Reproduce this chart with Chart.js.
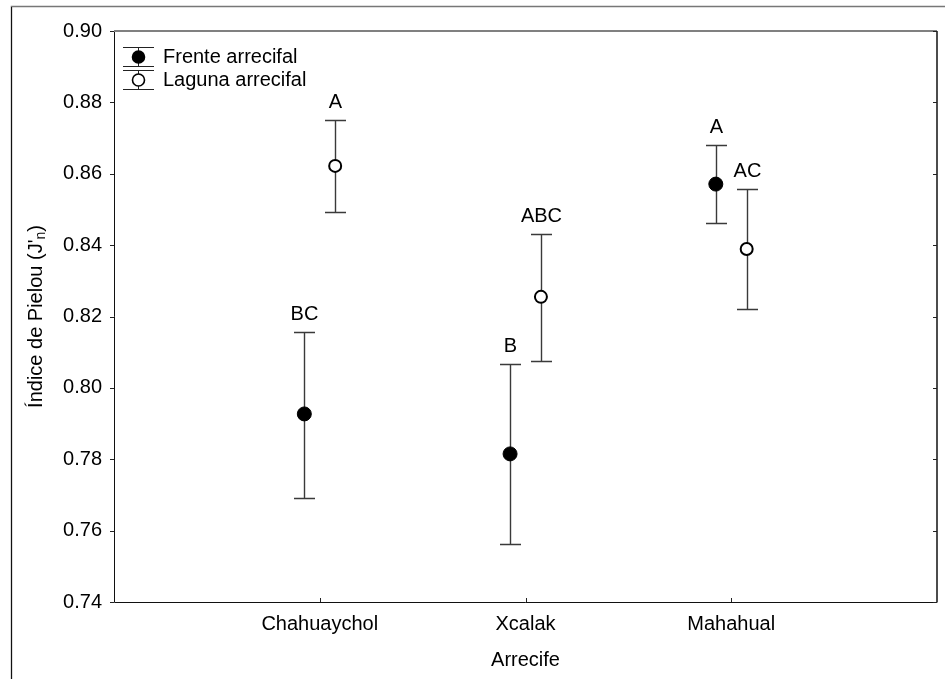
<!DOCTYPE html>
<html>
<head>
<meta charset="utf-8">
<script src="https://cdn.jsdelivr.net/npm/chart.js@4.4.0/dist/chart.umd.min.js"></script>
<style>
  html, body { margin: 0; padding: 0; background: #fff; }
  #wrap { width: 945px; height: 679px; }
</style>
</head>
<body>
<div id="wrap"><canvas id="myChart" width="945" height="679"></canvas></div>
<script>
// reef sites and Pielou evenness (mean with error bars)
let categories = ['Chahuaychol', 'Xcalak', 'Mahahual'];

let frenteMean = [0.7927, 0.7815, 0.8571];
let frenteLow = [0.7691, 0.7562, 0.8463];
let frenteHigh = [0.8157, 0.8067, 0.8681];
let frenteLetters = ['BC', 'B', 'A'];

let lagunaMean = [0.8622, 0.8255, 0.8389];
let lagunaLow = [0.8494, 0.8076, 0.8220];
let lagunaHigh = [0.8750, 0.8431, 0.8556];
let lagunaLetters = ['A', 'ABC', 'AC'];

let yTicks = [0.74, 0.76, 0.78, 0.80, 0.82, 0.84, 0.86, 0.88, 0.90];

const FONT = "'Liberation Sans', Arial, sans-serif";
const FS = 20;
const shift = 0.075; // horizontal dodge of the two series

function points(means, dx) {
    return means.map((v, i) => ({ x: i + 1 + dx, y: v }));
}

let groups = [
    { dx: -shift, low: frenteLow, high: frenteHigh, letters: frenteLetters },
    { dx: shift, low: lagunaLow, high: lagunaHigh, letters: lagunaLetters }
];

// error bars, significance letters, frame, ticks, legend and titles
const decor = {
    id: 'decor',
    beforeDraw(chart) {
        const ctx = chart.ctx;
        ctx.save();
        ctx.fillStyle = '#fff';
        ctx.fillRect(0, 0, chart.width, chart.height);
        // outer frame
        ctx.strokeStyle = '#777';
        ctx.lineWidth = 1.5;
        ctx.beginPath();
        ctx.moveTo(11.5, chart.height);
        ctx.lineTo(11.5, 6.5);
        ctx.lineTo(chart.width, 6.5);
        ctx.stroke();
        ctx.strokeStyle = '#111';
        ctx.lineWidth = 1;
        ctx.beginPath();
        ctx.moveTo(11.5, chart.height);
        ctx.lineTo(11.5, 7);
        ctx.stroke();
        ctx.restore();
    },
    beforeDatasetsDraw(chart) {
        const ctx = chart.ctx;
        const xs = chart.scales.x, ys = chart.scales.y;
        ctx.save();
        ctx.strokeStyle = '#3a3a3a';
        ctx.lineWidth = 1.4;
        ctx.fillStyle = '#000';
        ctx.font = FS + 'px ' + FONT;
        ctx.textAlign = 'center';
        ctx.textBaseline = 'middle';
        groups.forEach(g => {
            g.low.forEach((lo, i) => {
                const px = Math.round(xs.getPixelForValue(i + 1 + g.dx)) + 0.5;
                const yl = Math.round(ys.getPixelForValue(lo)) + 0.5;
                const yh = Math.round(ys.getPixelForValue(g.high[i])) + 0.5;
                ctx.beginPath();
                ctx.moveTo(px, yl); ctx.lineTo(px, yh);
                ctx.moveTo(px - 10.5, yl); ctx.lineTo(px + 10.5, yl);
                ctx.moveTo(px - 10.5, yh); ctx.lineTo(px + 10.5, yh);
                ctx.stroke();
                ctx.fillText(g.letters[i], px, yh - 18);
            });
        });
        ctx.restore();
    },
    afterDraw(chart) {
        const ctx = chart.ctx;
        const a = chart.chartArea;
        const xs = chart.scales.x, ys = chart.scales.y;
        ctx.save();
        // plot frame
        ctx.strokeStyle = '#111';
        ctx.lineWidth = 1;
        ctx.beginPath();
        ctx.moveTo(a.left + 0.5, a.top);
        ctx.lineTo(a.left + 0.5, a.bottom + 0.5);
        ctx.lineTo(a.right, a.bottom + 0.5);
        ctx.stroke();
        ctx.lineWidth = 1.5;
        ctx.beginPath();
        ctx.moveTo(a.right, a.top);
        ctx.lineTo(a.right, a.bottom + 0.5);
        ctx.stroke();
        ctx.strokeStyle = '#808080';
        ctx.lineWidth = 2;
        ctx.beginPath();
        ctx.moveTo(a.left, a.top);
        ctx.lineTo(a.right, a.top);
        ctx.stroke();
        // tick marks
        ctx.strokeStyle = '#222';
        ctx.lineWidth = 1;
        ctx.beginPath();
        yTicks.forEach(v => {
            const py = Math.round(ys.getPixelForValue(v)) + 0.5;
            ctx.moveTo(a.left - 4, py); ctx.lineTo(a.left, py);
            ctx.moveTo(a.right - 4, py); ctx.lineTo(a.right, py);
        });
        categories.forEach((c, i) => {
            const px = Math.round(xs.getPixelForValue(i + 1)) + 0.5;
            ctx.moveTo(px, a.bottom); ctx.lineTo(px, a.bottom - 4);
        });
        ctx.stroke();

        // legend
        const items = [
            { label: 'Frente arrecifal', fill: '#000', y: 57 },
            { label: 'Laguna arrecifal', fill: '#fff', y: 80 }
        ];
        items.forEach(it => {
            const cx = 138.5;
            ctx.strokeStyle = '#222';
            ctx.lineWidth = 1;
            ctx.beginPath();
            ctx.moveTo(cx, it.y - 9); ctx.lineTo(cx, it.y + 9);
            ctx.moveTo(cx - 15.5, it.y - 9.5); ctx.lineTo(cx + 15.5, it.y - 9.5);
            ctx.moveTo(cx - 15.5, it.y + 9.5); ctx.lineTo(cx + 15.5, it.y + 9.5);
            ctx.stroke();
            ctx.beginPath();
            ctx.arc(cx, it.y, 6, 0, Math.PI * 2);
            ctx.fillStyle = it.fill;
            ctx.fill();
            ctx.lineWidth = 1.6;
            ctx.strokeStyle = '#000';
            ctx.stroke();
            ctx.fillStyle = '#000';
            ctx.font = FS + 'px ' + FONT;
            ctx.textAlign = 'left';
            ctx.textBaseline = 'middle';
            ctx.fillText(it.label, 163, it.y);
        });

        // axis titles
        ctx.fillStyle = '#000';
        ctx.textAlign = 'center';
        ctx.textBaseline = 'middle';
        ctx.font = FS + 'px ' + FONT;
        ctx.fillText('Arrecife', (a.left + a.right) / 2, 660);

        ctx.translate(36, (a.top + a.bottom) / 2);
        ctx.rotate(-Math.PI / 2);
        const main = 'Índice de Pielou (J\'';
        const sub = 'n';
        const close = ')';
        ctx.font = FS + 'px ' + FONT;
        const w1 = ctx.measureText(main).width;
        const w3 = ctx.measureText(close).width;
        ctx.font = Math.round(FS * 0.7) + 'px ' + FONT;
        const w2 = ctx.measureText(sub).width;
        let x0 = -(w1 + w2 + w3) / 2;
        ctx.textAlign = 'left';
        ctx.font = FS + 'px ' + FONT;
        ctx.fillText(main, x0, 0);
        ctx.font = Math.round(FS * 0.7) + 'px ' + FONT;
        ctx.fillText(sub, x0 + w1, 5);
        ctx.font = FS + 'px ' + FONT;
        ctx.fillText(close, x0 + w1 + w2, 0);
        ctx.restore();
    }
};

const ctx = document.getElementById('myChart').getContext('2d');
const myChart = new Chart(ctx, {
    type: 'scatter',
    data: {
        datasets: [{
            label: 'Frente arrecifal',
            data: points(frenteMean, -shift),
            backgroundColor: '#000',
            borderColor: '#000',
            pointRadius: 7,
            pointBorderWidth: 1
        },
        {
            label: 'Laguna arrecifal',
            data: points(lagunaMean, shift),
            backgroundColor: '#fff',
            borderColor: '#000',
            pointRadius: 6,
            pointBorderWidth: 2
        }]
    },
    options: {
        responsive: false,
        animation: false,
        events: [],
        layout: { padding: { top: 31, right: 4, left: 0, bottom: 0 } },
        plugins: {
            legend: { display: false },
            tooltip: { enabled: false }
        },
        scales: {
            x: {
                type: 'linear',
                min: 0,
                max: 4,
                afterFit(s) { s.height = 77; },
                afterBuildTicks(s) { s.ticks = [1, 2, 3].map(v => ({ value: v })); },
                grid: { display: false, drawTicks: false },
                border: { display: false },
                ticks: {
                    padding: 10,
                    color: '#000',
                    font: { family: FONT, size: FS },
                    callback: v => categories[v - 1] || ''
                }
            },
            y: {
                min: 0.74,
                max: 0.90,
                afterFit(s) { s.width = 114; },
                afterBuildTicks(s) { s.ticks = yTicks.map(v => ({ value: v })); },
                grid: { display: false, drawTicks: false },
                border: { display: false },
                ticks: {
                    padding: 12,
                    color: '#000',
                    font: { family: FONT, size: FS },
                    callback: v => v.toFixed(2)
                }
            }
        }
    },
    plugins: [decor]
});
</script>
</body>
</html>
